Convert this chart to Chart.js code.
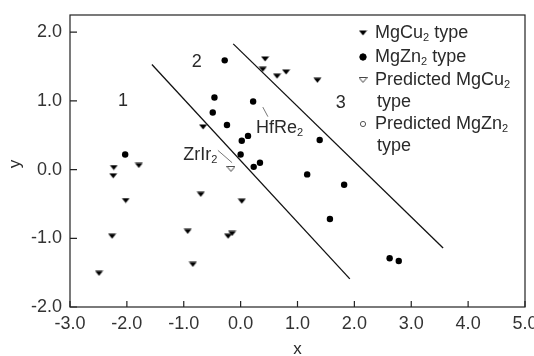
<!DOCTYPE html>
<html>
<head>
<meta charset="utf-8">
<script src="https://cdn.jsdelivr.net/npm/chart.js@4.4.0/dist/chart.umd.min.js"></script>
<style>
  html, body { margin: 0; padding: 0; background: #fff; }
  #wrap { width: 534px; height: 356px; }
</style>
</head>
<body>
<div id="wrap"><canvas id="chart"></canvas></div>
<script>
// values, [x, y]
const mgCu2Points = [
  [-2.49, -1.51], [-2.26, -0.97], [-2.23, 0.03], [-2.24, -0.09], [-1.79, 0.06],
  [-2.02, -0.45], [-0.93, -0.90], [-0.84, -1.38], [-0.70, -0.36], [-0.66, 0.62],
  [0.02, -0.46], [-0.22, -0.97], [-0.15, -0.93], [0.43, 1.61], [0.39, 1.46],
  [0.64, 1.36], [0.80, 1.42], [1.35, 1.30]
];
const mgZn2Points = [
  [-2.03, 0.22], [-0.28, 1.59], [-0.46, 1.05], [-0.49, 0.83], [-0.24, 0.65],
  [0.22, 0.99], [0.02, 0.42], [0.13, 0.49], [0.00, 0.22], [0.23, 0.04],
  [0.34, 0.10], [1.39, 0.43], [1.17, -0.07], [1.82, -0.22], [1.57, -0.72],
  [2.62, -1.29], [2.78, -1.33]
];
const predMgCu2Points = [[-0.17, 0.01]];
const predMgZn2Points = [];
const boundary12 = [[-1.56, 1.53], [1.92, -1.59]];
const boundary23 = [[-0.13, 1.83], [3.56, -1.14]];

const xTicks = [-3, -2, -1, 0, 1, 2, 3, 4, 5];
const yTicks = [-2, -1, 0, 1, 2];

const regionLabels = [["1", -2.07, 1.0], ["2", -0.77, 1.56], ["3", 1.76, 0.97]];
const compoundLabels = [
  { parts: [["ZrIr", false], ["2", true]], x: -1.01, y: 0.21, from: [-0.40, 0.28], to: [-0.15, 0.10] },
  { parts: [["HfRe", false], ["2", true]], x: 0.27, y: 0.60, from: [0.39, 0.91], to: [0.48, 0.77] }
];
const legendRows = [
  { series: 0, parts: [["MgCu", false], ["2", true], [" type", false]] },
  { series: 1, parts: [["MgZn", false], ["2", true], [" type", false]] },
  { series: 2, parts: [["Predicted MgCu", false], ["2", true]] },
  { series: -1, parts: [["type", false]] },
  { series: 3, parts: [["Predicted MgZn", false], ["2", true]] },
  { series: -1, parts: [["type", false]] }
];

const FONT = '"Liberation Sans", Arial, sans-serif';
const INK = "#2a2a2a";

function toXY(list) {
  return list.map(p => ({ x: p[0], y: p[1] }));
}

function makeTriangle(filled) {
  const c = document.createElement("canvas");
  c.width = 9;
  c.height = 6;
  const g = c.getContext("2d");
  g.beginPath();
  g.moveTo(0.5, 0.5);
  g.lineTo(8.5, 0.5);
  g.lineTo(4.5, 5.5);
  g.closePath();
  if (filled) {
    g.fillStyle = "#000";
    g.fill();
  } else {
    g.strokeStyle = "#444";
    g.lineWidth = 1;
    g.stroke();
  }
  return c;
}

function drawRich(ctx, parts, x, y, size) {
  let cx = x;
  for (const [text, sub] of parts) {
    const s = sub ? Math.round(size * 0.62) : size;
    ctx.font = s + "px " + FONT;
    ctx.fillText(text, cx, sub ? y + size * 0.28 : y);
    cx += ctx.measureText(text).width;
  }
}

const decorations = {
  id: "decorations",
  afterDatasetsDraw(chart) {
    const ctx = chart.ctx;
    const area = chart.chartArea;
    const xs = chart.scales.x;
    const ys = chart.scales.y;
    ctx.save();

    // frame and inward ticks
    ctx.strokeStyle = "#222";
    ctx.lineWidth = 1.2;
    ctx.strokeRect(area.left, area.top, area.right - area.left, area.bottom - area.top);
    ctx.beginPath();
    xTicks.forEach(v => {
      const px = xs.getPixelForValue(v);
      ctx.moveTo(px, area.bottom);
      ctx.lineTo(px, area.bottom - 6);
    });
    yTicks.forEach(v => {
      const py = ys.getPixelForValue(v);
      ctx.moveTo(area.left, py);
      ctx.lineTo(area.left + 7, py);
    });
    ctx.stroke();

    // region numbers
    ctx.fillStyle = INK;
    ctx.textBaseline = "middle";
    ctx.textAlign = "center";
    ctx.font = "18px " + FONT;
    regionLabels.forEach(([t, x, y]) => {
      ctx.fillText(t, xs.getPixelForValue(x), ys.getPixelForValue(y));
    });

    // compound labels with leader lines
    ctx.textAlign = "left";
    compoundLabels.forEach(l => {
      drawRich(ctx, l.parts, xs.getPixelForValue(l.x), ys.getPixelForValue(l.y), 18);
      ctx.beginPath();
      ctx.strokeStyle = "#777";
      ctx.lineWidth = 1;
      ctx.moveTo(xs.getPixelForValue(l.from[0]), ys.getPixelForValue(l.from[1]));
      ctx.lineTo(xs.getPixelForValue(l.to[0]), ys.getPixelForValue(l.to[1]));
      ctx.stroke();
    });

    // legend
    const rowY = [18, 42, 65, 87, 109, 131];
    const mx = area.right - 162;
    legendRows.forEach((row, i) => {
      const y = area.top + rowY[i];
      if (row.series >= 0) {
        const ds = chart.data.datasets[row.series];
        if (ds.pointStyle instanceof HTMLCanvasElement) {
          ctx.drawImage(ds.pointStyle, mx - ds.pointStyle.width / 2, y - ds.pointStyle.height / 2);
        } else {
          ctx.beginPath();
          ctx.arc(mx, y, ds.pointRadius, 0, Math.PI * 2);
          if (ds.backgroundColor !== "transparent") {
            ctx.fillStyle = ds.backgroundColor;
            ctx.fill();
          }
          ctx.strokeStyle = ds.borderColor;
          ctx.lineWidth = ds.borderWidth;
          ctx.stroke();
        }
      }
      ctx.fillStyle = INK;
      drawRich(ctx, row.parts, mx + 12 + (row.series < 0 ? 2 : 0), y, 18);
    });

    // axis titles
    ctx.font = "17px " + FONT;
    ctx.textAlign = "center";
    ctx.fillText("x", (area.left + area.right) / 2, area.bottom + 42);
    ctx.translate(area.left - 55, (area.top + area.bottom) / 2 + 3);
    ctx.rotate(-Math.PI / 2);
    ctx.fillText("y", 0, 0);
    ctx.restore();
  }
};

const ctx = document.getElementById("chart").getContext("2d");
const chart = new Chart(ctx, {
  type: "scatter",
  data: {
    datasets: [
      { label: "MgCu2 type", data: toXY(mgCu2Points), pointStyle: makeTriangle(true), pointRadius: 4 },
      { label: "MgZn2 type", data: toXY(mgZn2Points), pointStyle: "circle", pointRadius: 3.2,
        backgroundColor: "#000", borderColor: "#000", borderWidth: 0 },
      { label: "Predicted MgCu2 type", data: toXY(predMgCu2Points), pointStyle: makeTriangle(false), pointRadius: 4 },
      { label: "Predicted MgZn2 type", data: toXY(predMgZn2Points), pointStyle: "circle", pointRadius: 2.6,
        backgroundColor: "transparent", borderColor: "#555", borderWidth: 1 },
      { data: toXY(boundary12), showLine: true, pointRadius: 0, borderColor: "#111", borderWidth: 1.3 },
      { data: toXY(boundary23), showLine: true, pointRadius: 0, borderColor: "#111", borderWidth: 1.3 }
    ]
  },
  options: {
    responsive: true,
    maintainAspectRatio: false,
    animation: false,
    layout: { padding: { left: 0, right: 9, top: 15, bottom: 0 } },
    plugins: { legend: { display: false }, tooltip: { enabled: false } },
    scales: {
      x: {
        type: "linear",
        min: -3,
        max: 5,
        grid: { display: false, drawTicks: false },
        border: { display: false },
        afterBuildTicks: s => { s.ticks = xTicks.map(v => ({ value: v })); },
        afterFit: s => { s.height = 49; s.paddingLeft = 0; s.paddingRight = 0; },
        ticks: {
          autoSkip: false,
          maxRotation: 0,
          padding: 6,
          color: "#333",
          font: { family: FONT, size: 18 },
          callback: v => v.toFixed(1)
        }
      },
      y: {
        type: "linear",
        min: -2,
        max: 2.25,
        grid: { display: false, drawTicks: false },
        border: { display: false },
        afterBuildTicks: s => { s.ticks = yTicks.map(v => ({ value: v })); },
        afterFit: s => { s.width = 70; s.paddingTop = 0; s.paddingBottom = 0; },
        ticks: {
          autoSkip: false,
          padding: 8,
          color: "#333",
          font: { family: FONT, size: 18 },
          callback: v => v.toFixed(1)
        }
      }
    }
  },
  plugins: [decorations]
});
</script>
</body>
</html>
